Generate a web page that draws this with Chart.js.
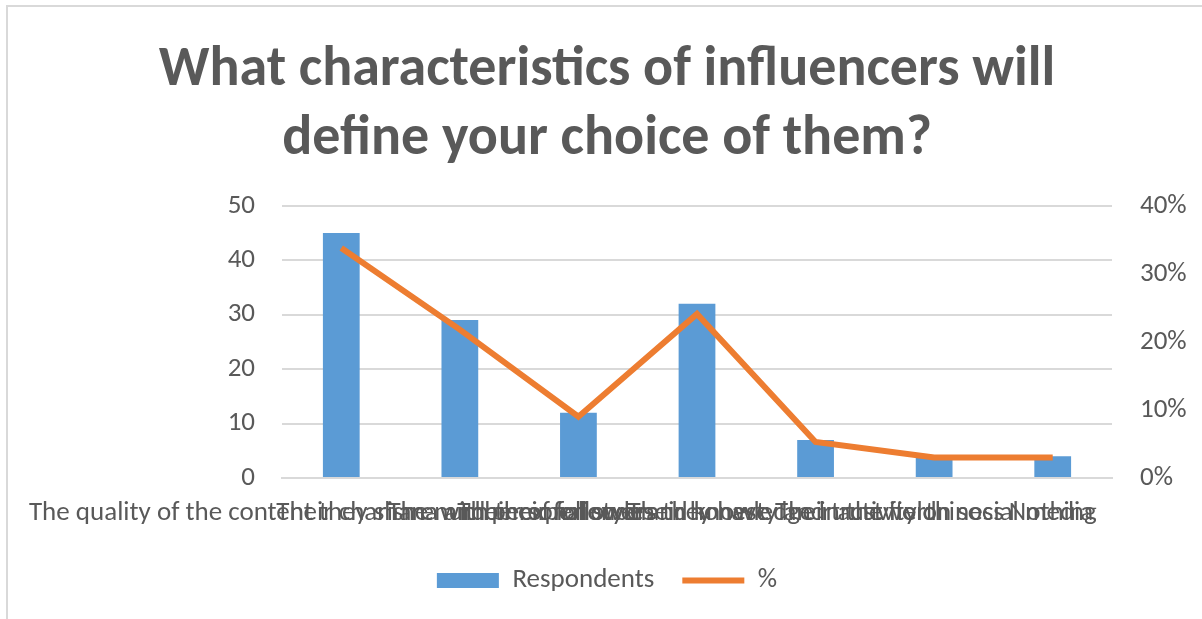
<!DOCTYPE html>
<html>
<head>
<meta charset="utf-8">
<script src="https://cdn.jsdelivr.net/npm/chart.js@4"></script>
<style>
  body { margin: 0; background: #fff; }
  #frame { position: absolute; left: 6px; top: 5px; width: 1196px; height: 614px; border-top: 2px solid #d9d9d9; border-left: 2px solid #d9d9d9; }
  #wrap { position: absolute; left: 0; top: 0; width: 1202px; height: 619px; }
</style>
</head>
<body>
<div id="frame"></div>
<div id="wrap"><canvas id="chart"></canvas></div>
<script>
const categories = [
    'The quality of the content they share with their followers',
    'Their charisma and personal style',
    'The number of followers they have',
    'Their experience and knowledge in the field',
    'Their honesty and trustworthiness',
    'Their activity on social media',
    'Nothing'
];
const respondents = [45, 29, 12, 32, 7, 4, 4];
const percent = [33.8, 21.8, 9.0, 24.1, 5.3, 3.0, 3.0];

const textColor = '#595959';
const gridColor = '#d9d9d9';
const font = "Calibri, Carlito, 'Open Sans', sans-serif";

const ctx = document.getElementById('chart').getContext('2d');
const chart = new Chart(ctx, {
    data: {
        labels: categories,
        datasets: [{
            type: 'line',
            label: '%',
            data: percent,
            yAxisID: 'y1',
            borderColor: '#ed7d31',
            backgroundColor: '#ed7d31',
            borderWidth: 6,
            pointRadius: 0,
            tension: 0,
            order: 0
        }, {
            type: 'bar',
            label: 'Respondents',
            data: respondents,
            yAxisID: 'y',
            backgroundColor: '#5b9bd5',
            barPercentage: 0.62,
            categoryPercentage: 0.5,
            order: 1
        }]
    },
    options: {
        responsive: true,
        maintainAspectRatio: false,
        animation: false,
        layout: { padding: { left: 20, right: 8, top: 0, bottom: 15 } },
        plugins: {
            title: {
                display: true,
                text: ['What characteristics of influencers will', 'define your choice of them?'],
                color: textColor,
                font: { family: font, size: 56, weight: 'bold', lineHeight: 1.23 },
                padding: { top: 37, bottom: 31 }
            },
            legend: {
                position: 'bottom',
                reverse: true,
                labels: {
                    color: textColor,
                    font: { family: font, size: 27 },
                    usePointStyle: true,
                    pointStyleWidth: 62,
                    boxHeight: 15,
                    padding: 28,
                    generateLabels: function(c) {
                        return c.data.datasets.map((ds, i) => ({
                            text: ds.label,
                            fillStyle: ds.backgroundColor,
                            strokeStyle: ds.type === 'line' ? ds.borderColor : ds.backgroundColor,
                            lineWidth: ds.type === 'line' ? 6 : 0,
                            pointStyle: ds.type === 'line' ? 'line' : 'rect',
                            fontColor: textColor,
                            datasetIndex: i,
                            hidden: false
                        }));
                    }
                }
            },
            tooltip: { enabled: false }
        },
        scales: {
            x: {
                offset: true,
                grid: { display: false, drawTicks: false },
                border: { color: gridColor, width: 2 },
                ticks: {
                    color: textColor,
                    font: { family: font, size: 27 },
                    autoSkip: false,
                    maxRotation: 0,
                    minRotation: 0,
                    padding: 19
                },
                afterFit: function(scale) {
                    scale.paddingLeft = 0;
                    scale.paddingRight = 0;
                    scale.height = 61;
                }
            },
            y: {
                position: 'left',
                min: 0,
                max: 50,
                grid: { color: gridColor, lineWidth: 2, drawTicks: false },
                border: { display: false },
                ticks: {
                    stepSize: 10,
                    color: textColor,
                    font: { family: font, size: 27 },
                    padding: 27
                },
                afterFit: function(scale) { scale.width = 262; }
            },
            y1: {
                position: 'right',
                min: 0,
                max: 40,
                grid: { display: false, drawTicks: false },
                border: { display: false },
                ticks: {
                    stepSize: 10,
                    color: textColor,
                    font: { family: font, size: 27 },
                    padding: 28,
                    callback: v => v + '%'
                },
                afterFit: function(scale) { scale.width = 82; }
            }
        }
    }
});
</script>
</body>
</html>
